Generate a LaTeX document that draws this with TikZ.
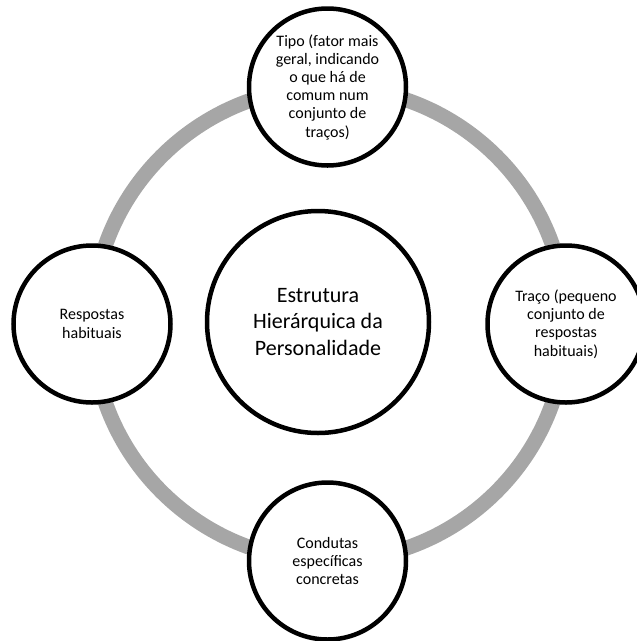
\documentclass[tikz,border=0pt]{standalone}
\usepackage{fontspec}
\setmainfont{Carlito}
\begin{document}
\begin{tikzpicture}[x=1pt,y=-1pt,
    ring/.style={draw=black!35, line width=15pt},
    outer/.style={circle, draw, line width=4.5pt, fill=white, minimum size=157pt,
      inner sep=0pt, align=center, font=\fontsize{16}{18.2}\selectfont},
    core/.style={circle, draw, line width=4.5pt, fill=white, minimum size=222pt,
      inner sep=0pt, align=center, font=\fontsize{22}{26.5}\selectfont}]
        % Page frame
        \useasboundingbox (0,0) rectangle (637,641);
        \clip (0,0) rectangle (637,641);

        % Define centres
        \coordinate (O) at (329,324);
        \coordinate (T) at (327.5,87);
        \coordinate (R) at (566,324);
        \coordinate (B) at (327.5,561);
        \coordinate (L) at (92,324);

        % Draw ring
        \draw[ring] (O) circle (237);

        % Draw nodes
        \node[core] (centro) at (318,322) {Estrutura\\Hierárquica da\\Personalidade};
        \node[outer] (tipo) at (T) {Tipo (fator mais\\geral, indicando\\o que há de\\comum num\\conjunto de\\traços)};
        \node[outer] (traco) at (R) {Traço (pequeno\\conjunto de\\respostas\\habituais)};
        \node[outer] (condutas) at (B) {Condutas\\específicas\\concretas};
        \node[outer] (respostas) at (L) {Respostas\\habituais};
\end{tikzpicture}
\end{document}
